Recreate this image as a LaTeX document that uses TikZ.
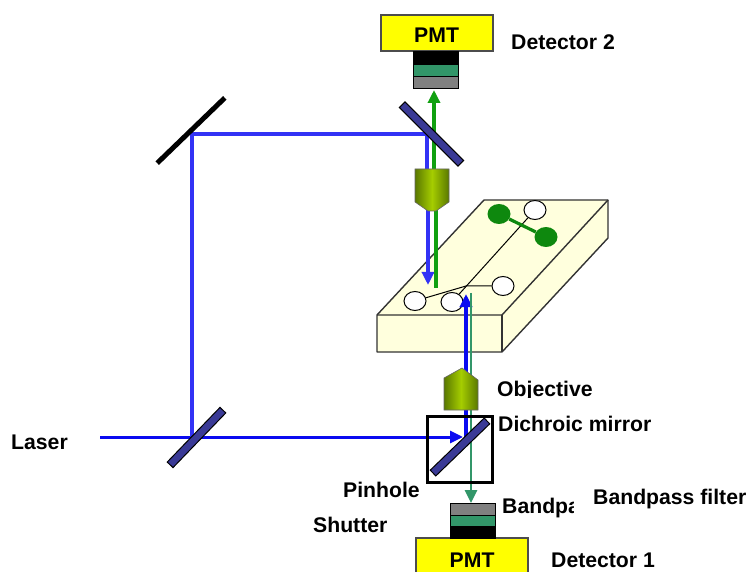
\documentclass[tikz,border=0pt]{standalone}
\usepackage{fontspec}
\setmainfont{Liberation Sans}
\usetikzlibrary{arrows.meta,shapes.geometric}
\definecolor{pmtyellow}{RGB}{255,255,0}
\definecolor{chipyellow}{RGB}{255,255,221}
\definecolor{mirrorblue}{RGB}{58,58,150}
\definecolor{beamblue}{RGB}{50,50,245}
\definecolor{laserblue}{RGB}{10,10,240}
\definecolor{beamgreen}{RGB}{16,160,16}
\definecolor{filtergreen}{RGB}{50,150,105}
\definecolor{lensdark}{RGB}{90,120,0}
\definecolor{lenslight}{RGB}{165,205,0}
\begin{document}
\begin{tikzpicture}[x=1pt, y=-1pt,
    labeltext/.style={anchor=base west, inner sep=0pt, font=\fontsize{21.2}{25}\selectfont\bfseries},
    pmtbox/.style={draw=black!70, line width=1.2pt, fill=pmtyellow, minimum width=112pt, minimum height=36pt, inner sep=0pt},
    layerbox/.style={draw=black, line width=1pt, minimum width=45pt, minimum height=12pt, inner sep=0pt},
    mirrorbar/.style={draw=black, line width=1pt, fill=mirrorblue, minimum height=8pt, inner sep=0pt},
    whitewell/.style={draw=black, line width=1pt, fill=white, ellipse, inner sep=0pt, minimum width=22pt, minimum height=19pt},
    greenwell/.style={fill=beamgreen!85!black, ellipse, inner sep=0pt, minimum width=23pt, minimum height=20pt},
    bluebeam/.style={draw=beamblue, line width=3.6pt},
    greenbeam/.style={draw=beamgreen, line width=3.6pt},
    lensbody/.style={draw=black!60, line width=0.6pt, left color=lensdark, right color=lensdark, middle color=lenslight},
    channel/.style={draw=black, line width=1pt},
    beamtip/.style={-{Triangle[length=13pt,width=12pt]}}]
    \useasboundingbox (0,0) rectangle (750,572);

    % Beam end points
    \coordinate (start) at (100,437);
    \coordinate (split) at (192,437);
    \coordinate (turn) at (192,134);
    \coordinate (bend) at (427,134);
    \coordinate (lens2in) at (427,172);
    \coordinate (lens2out) at (428,205);
    \coordinate (focus) at (428,285);
    \coordinate (green2a) at (436,205);
    \coordinate (green2b) at (436,288);
    \coordinate (green2c) at (434,172);
    \coordinate (green2d) at (434,90);
    \coordinate (dichroic) at (466,437);
    \coordinate (hit) at (463,437);
    \coordinate (spot) at (466,294);
    \coordinate (green1a) at (471,293);
    \coordinate (green1b) at (471,503);

    % Chip
    \draw[line width=1.4pt, draw=black!80, fill=chipyellow, line join=round] (377,315) -- (484,200) -- (608,200) -- (608,238) -- (502,352) -- (377,352) -- cycle;
    \draw[line width=1.4pt, draw=black!80] (377,315) -- (502,315) -- (608,200);
    \draw[line width=1.4pt, draw=black!80] (502,315) -- (502,352);

    % Wells
    \node[whitewell] (w1) at (415,301) {};
    \node[whitewell] (w2) at (452,302) {};
    \node[whitewell] (w3) at (503,286) {};
    \node[whitewell] (w4) at (535,210) {};
    \node[greenwell] (g1) at (499,214) {};
    \node[greenwell] (g2) at (546,237) {};
    \coordinate (cross) at (466,286);
    \draw[channel] (w1) -- (cross) -- (w3);
    \draw[channel] (w2) -- (w4);
    \draw[draw=beamgreen!85!black, line width=3.2pt] (g1) -- (g2);

    % Beams
    \draw[draw=laserblue, line width=3pt, beamtip] (start) -- (hit);
    \draw[bluebeam] (split) -- (turn) -- (bend) -- (lens2in);
    \draw[bluebeam, beamtip] (lens2out) -- (focus);
    \draw[greenbeam] (green2a) -- (green2b);
    \draw[greenbeam, beamtip] (green2c) -- (green2d);
    \draw[draw=laserblue, line width=3.2pt, beamtip] (dichroic) -- (spot);
    \draw[draw=filtergreen, line width=2.8pt, beamtip] (green1a) -- (green1b);

    % Objectives
    \path[lensbody] (415,169) -- (449,169) -- (449,202) -- (436,211) -- (428,211) -- (415,202) -- cycle;
    \path[lensbody] (444,410) -- (478,410) -- (478,380) -- (462,368) -- (444,378) -- cycle;

    % Mirrors
    \node[draw=black, line width=3pt, minimum width=65pt, minimum height=66pt, inner sep=0pt] (cube) at (459.5,449) {};
    \node[mirrorbar, minimum width=83pt, rotate=-45] (m2) at (431.5,134) {};
    \node[fill=black, minimum width=94pt, minimum height=5pt, inner sep=0pt, rotate=44] (m1) at (191,130.5) {};
    \node[mirrorbar, minimum width=76pt, rotate=46] (m3) at (196.5,437.5) {};
    \node[mirrorbar, minimum width=75pt, rotate=44] (m4) at (460,447) {};

    % Detector 2
    \node[pmtbox] (pmt2) at (437,33) {};
    \node[layerbox, fill=black] (shut2) at (435.5,57.5) {};
    \node[layerbox, fill=filtergreen] (band2) at (435.5,71) {};
    \node[layerbox, fill=gray] (hole2) at (435.5,83) {};

    % Detector 1
    \node[pmtbox] (pmt1) at (472,556) {};
    \node[layerbox, fill=black] (shut1) at (472.5,532) {};
    \node[layerbox, fill=filtergreen] (band1) at (472.5,520.5) {};
    \node[layerbox, fill=gray] (hole1) at (472.5,509) {};

    % Labels
    \node[labeltext] (pmt2text) at (414,43) {PMT};
    \node[labeltext] (pmt1text) at (449.5,567) {PMT};
    \node[labeltext] (det2) at (511,50) {Detector 2};
    \node[labeltext] (det1) at (551,567) {Detector 1};
    \node[labeltext] (laser) at (11,449) {Laser};
    \node[labeltext] (dich) at (498,431) {Dichroic mirror};
    \node[labeltext] (pin) at (343,497) {Pinhole};
    \node[labeltext] (shut) at (313,532) {Shutter};
    \node[labeltext] (band) at (593,504) {Bandpass filter};
    \begin{scope}
        \clip (490,375) rectangle (610,397);
        \node[labeltext] (obj) at (497,396) {Objective};
    \end{scope}
    \begin{scope}
        \clip (498,490) rectangle (573,525);
        \node[labeltext] (bandcut) at (502,513) {Bandpa};
    \end{scope}
\end{tikzpicture}
\end{document}
